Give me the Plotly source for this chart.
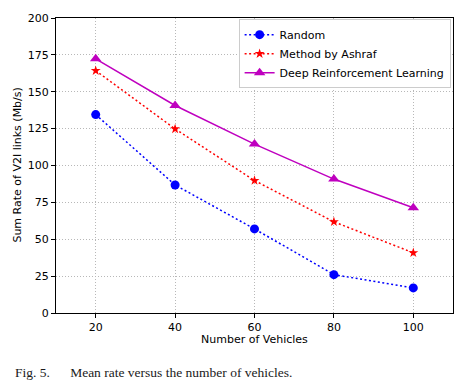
import plotly.graph_objects as go

vehicles = [20, 40, 60, 80, 100]
random_rate = [134.5, 86.8, 57.0, 26.0, 17.0]
ashraf_rate = [164.3, 124.8, 89.8, 61.8, 40.8]
drl_rate = [172.3, 140.7, 114.5, 90.8, 71.4]

x_ticks = [20, 40, 60, 80, 100]
y_ticks = [0, 25, 50, 75, 100, 125, 150, 175, 200]

fig = go.Figure()
fig.add_trace(go.Scatter(x=vehicles, y=random_rate, name="Random", mode="lines+markers",
                         line=dict(color="#0000ff", dash="2px,2.5px", width=1.5),
                         marker=dict(symbol="circle", size=9, color="#0000ff")))
fig.add_trace(go.Scatter(x=vehicles, y=ashraf_rate, name="Method by Ashraf", mode="lines+markers",
                         line=dict(color="#ff0000", dash="2px,2.5px", width=1.5),
                         marker=dict(symbol="star", size=7.5, color="#ff0000")))
fig.add_trace(go.Scatter(x=vehicles, y=drl_rate, name="Deep Reinforcement Learning", mode="lines+markers",
                         line=dict(color="#bf00bf", width=1.5),
                         marker=dict(symbol="triangle-up", size=10, color="#bf00bf")))

axis_common = dict(showline=True, linecolor="black", linewidth=1, mirror=True,
                   ticks="outside", ticklen=4, tickcolor="black", automargin=False,
                   showgrid=True, gridcolor="#b8b8b8", griddash="1px,2px", gridwidth=1,
                   zeroline=False, tickfont=dict(family="DejaVu Sans", size=11, color="black"))

fig.update_xaxes(range=[10, 110], tickvals=x_ticks, **axis_common)
fig.update_yaxes(range=[0, 200], tickvals=y_ticks, **axis_common)

fig.update_layout(
    width=467, height=388,
    margin=dict(l=56, r=14, t=18, b=75),
    paper_bgcolor="white", plot_bgcolor="white",
    legend=dict(x=0.46, y=0.996, xanchor="left", yanchor="top",
                bgcolor="white", bordercolor="#cccccc", borderwidth=1,
                font=dict(family="DejaVu Sans", size=11, color="black"),
                tracegroupgap=0, itemwidth=30),
    annotations=[
        dict(text="Number of Vehicles", xref="paper", yref="paper", x=0.5, y=-0.09,
             xanchor="center", yanchor="middle", showarrow=False,
             font=dict(family="DejaVu Sans", size=11, color="black")),
        dict(text="Sum Rate of V2I links (Mb/s)", xref="paper", yref="paper", x=-0.098, y=0.5,
             xanchor="center", yanchor="middle", showarrow=False, textangle=-90,
             font=dict(family="DejaVu Sans", size=11, color="black")),
        dict(text="Fig. 5.&nbsp;&nbsp;&nbsp;&nbsp;&nbsp;&nbsp;Mean rate versus the number of vehicles.",
             xref="paper", yref="paper", x=-0.108, y=-0.2, xanchor="left", yanchor="middle",
             showarrow=False, font=dict(family="Liberation Serif", size=13.5, color="#1a1a1a")),
    ],
)

fig.write_html("out.html", config={"displayModeBar": False},
               post_script="document.body.style.margin='0';")
